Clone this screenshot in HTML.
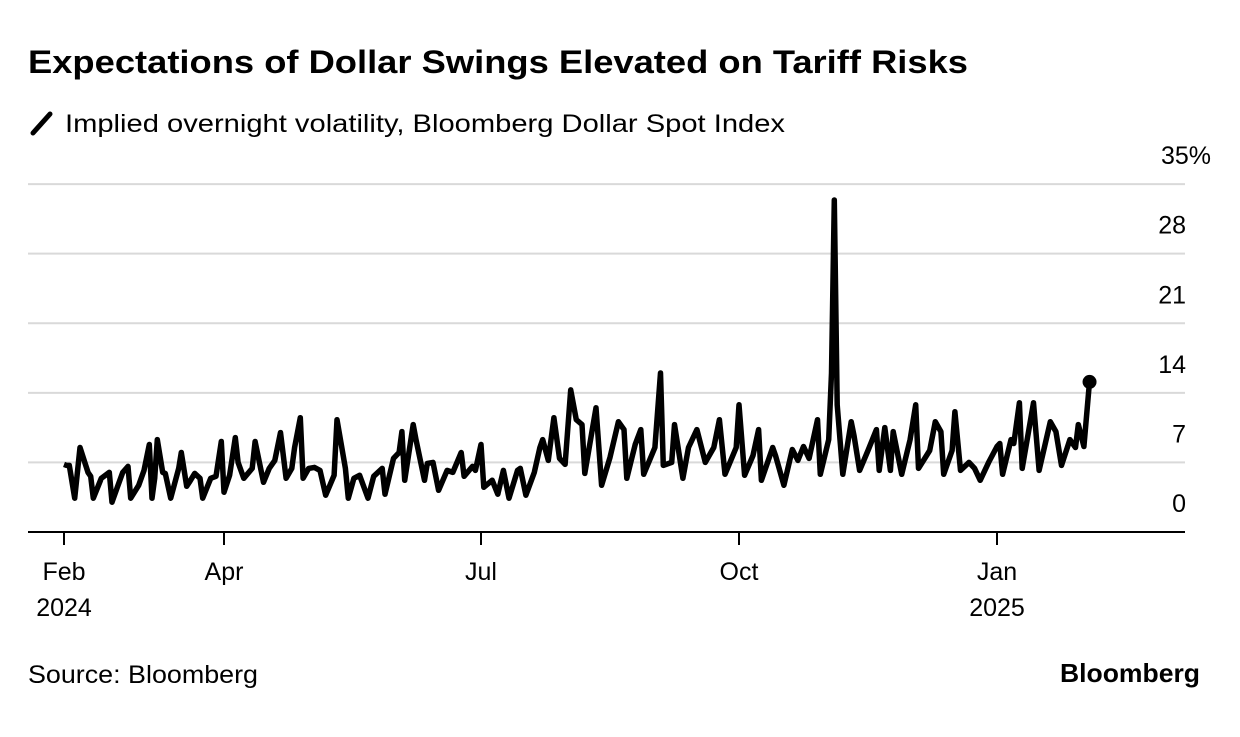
<!DOCTYPE html>
<html><head><meta charset="utf-8"><style>
body{margin:0;background:#fff;width:1240px;height:732px;overflow:hidden;font-family:"Liberation Sans",Arial,sans-serif}
</style></head><body>
<svg width="1240" height="732">
<text x="28" y="73" font-size="32" font-weight="bold" fill="#000" textLength="940" lengthAdjust="spacingAndGlyphs">Expectations of Dollar Swings Elevated on Tariff Risks</text>
<line x1="33" y1="133" x2="50" y2="114" stroke="#000" stroke-width="5" stroke-linecap="round"/>
<text x="65" y="132" font-size="25" fill="#000" textLength="720" lengthAdjust="spacingAndGlyphs">Implied overnight volatility, Bloomberg Dollar Spot Index</text>
<g id="grid"></g><g id="xaxis"></g>
<path id="line" fill="none" stroke="#000" stroke-width="5.5" stroke-linejoin="round"/>
<circle id="dot" r="7" fill="#000"/>
<text x="28" y="683" font-size="25" fill="#000" textLength="230" lengthAdjust="spacingAndGlyphs">Source: Bloomberg</text>
<text x="1200" y="682" font-size="26" font-weight="bold" text-anchor="end" fill="#000" textLength="140" lengthAdjust="spacingAndGlyphs">Bloomberg</text>
</svg>
<script>
const days=[0,1,2,4,6,9,10,11,14,17,18,20,22,24,25,28,30,32,33,34,35,37,38,40,43,44,46,47,49,51,52,55,57,59,60,62,64,65,67,70,71,74,76,78,80,82,84,85,87,88,90,92,94,96,99,100,103,104,106,108,111,113,116,117,120,122,123,124,127,128,131,132,134,136,139,141,144,145,148,149,151,152,155,157,159,161,164,165,167,170,172,173,175,177,179,181,183,185,187,188,192,194,197,200,202,203,206,208,209,213,215,216,219,220,223,225,228,231,234,236,238,242,243,245,248,250,251,255,256,259,262,264,266,268,271,272,275,276,277,278,280,283,284,286,289,292,293,295,297,298,301,304,306,307,311,313,315,316,319,320,322,325,327,329,332,335,336,337,340,341,343,344,348,350,354,356,358,361,363,364,366,368];
const values=[6.8,6.7,6.7,3.4,8.5,6.0,5.6,3.4,5.4,6.0,3.0,4.5,6.0,6.6,3.4,4.7,6.2,8.8,3.4,5.4,9.3,6.0,5.9,3.4,6.4,8.0,4.6,5.0,5.9,5.4,3.4,5.4,5.6,9.1,4.0,5.7,9.5,7.0,5.4,6.4,9.1,5.0,6.4,7.2,10.0,5.4,6.4,8.5,11.5,5.4,6.4,6.5,6.2,3.7,5.7,11.3,6.4,3.4,5.4,5.7,3.4,5.6,6.4,3.8,7.4,8.0,10.1,5.2,10.8,9.3,5.2,6.9,7.0,4.2,6.2,6.0,8.0,5.6,6.6,6.2,8.8,4.5,5.2,3.8,6.2,3.4,6.2,6.4,3.7,6.0,8.5,9.3,7.2,11.5,7.4,6.8,14.3,11.3,10.8,5.9,12.5,4.7,7.5,11.1,10.3,5.4,8.8,10.3,5.8,8.5,16.0,6.7,7.0,10.8,5.4,8.5,10.3,7.0,8.5,11.3,5.8,8.5,12.8,5.7,7.7,10.3,5.2,8.5,7.7,4.7,8.3,7.2,8.6,7.4,11.3,5.8,9.3,16,33.4,12.8,5.8,11.1,9.7,6.2,8.2,10.3,6.2,10.5,6.2,10.1,5.8,9.3,12.8,6.4,8.2,11.1,10.1,5.8,8.2,12.1,6.2,7.0,6.4,5.2,7.0,8.6,8.9,5.8,9.3,8.9,13.0,6.4,13.0,6.2,11.1,10.1,6.7,9.3,8.5,10.8,8.6,15.1];
const yTicks=[0,7,14,21,28,35];
const xTickDays=[0,60,151,243,335];
const xTickMonths=["Feb","Apr","Jul","Oct","Jan"];
const xTickYears=["2024","","","","2025"];
const xTickPx=[64,224,481,739,997];
function x(d){for(let i=0;i<xTickDays.length-1;i++){if(d<=xTickDays[i+1]||i==xTickDays.length-2){const a=xTickDays[i],b=xTickDays[i+1];return xTickPx[i]+(d-a)*(xTickPx[i+1]-xTickPx[i])/(b-a);}}}
function y(v){return 532-v*9.94;}
const NS="http://www.w3.org/2000/svg";
const grid=document.getElementById('grid');
yTicks.forEach(t=>{
 if(t>0){const l=document.createElementNS(NS,'line');
 
 
 l.setAttribute('x1',28);l.setAttribute('x2',1185);l.setAttribute('y1',y(t));l.setAttribute('y2',y(t));
 l.setAttribute('stroke','#d9d9d9');l.setAttribute('stroke-width','2');grid.appendChild(l);}
 const tx=document.createElementNS(NS,'text');
 
 
 tx.setAttribute('x',t==35?1211:1186);tx.setAttribute('y',y(t)-20);tx.setAttribute('text-anchor','end');
 tx.setAttribute('font-size','25');tx.textContent=t==35?'35%':t;grid.appendChild(tx);
});
const xa=document.getElementById('xaxis');
const ax=document.createElementNS(NS,'line');


ax.setAttribute('x1',28);ax.setAttribute('x2',1185);ax.setAttribute('y1',532);ax.setAttribute('y2',532);ax.setAttribute('stroke','#000');ax.setAttribute('stroke-width','2');xa.appendChild(ax);
xTickDays.forEach((d,i)=>{
 const px=x(d);
 const tk=document.createElementNS(NS,'line');
 
 
 tk.setAttribute('x1',px);tk.setAttribute('x2',px);tk.setAttribute('y1',532);tk.setAttribute('y2',545);tk.setAttribute('stroke','#000');tk.setAttribute('stroke-width','2');xa.appendChild(tk);
 const t1=document.createElementNS(NS,'text');
 
 
 t1.setAttribute('x',px);t1.setAttribute('y',580);t1.setAttribute('text-anchor','middle');t1.setAttribute('font-size','25');t1.textContent=xTickMonths[i];xa.appendChild(t1);
 if(xTickYears[i]){const t2=document.createElementNS(NS,'text');
 
 
 t2.setAttribute('x',px);t2.setAttribute('y',616);t2.setAttribute('text-anchor','middle');t2.setAttribute('font-size','25');t2.textContent=xTickYears[i];xa.appendChild(t2);}
});
let d='';days.forEach((dd,i)=>{d+=(i?'L':'M')+x(dd).toFixed(1)+','+y(values[i]).toFixed(1);});
document.getElementById('line').setAttribute('d',d);
const n=days.length-1;const dot=document.getElementById('dot');
dot.setAttribute('cx',x(days[n]));dot.setAttribute('cy',y(values[n]));
</script>
</body></html>
